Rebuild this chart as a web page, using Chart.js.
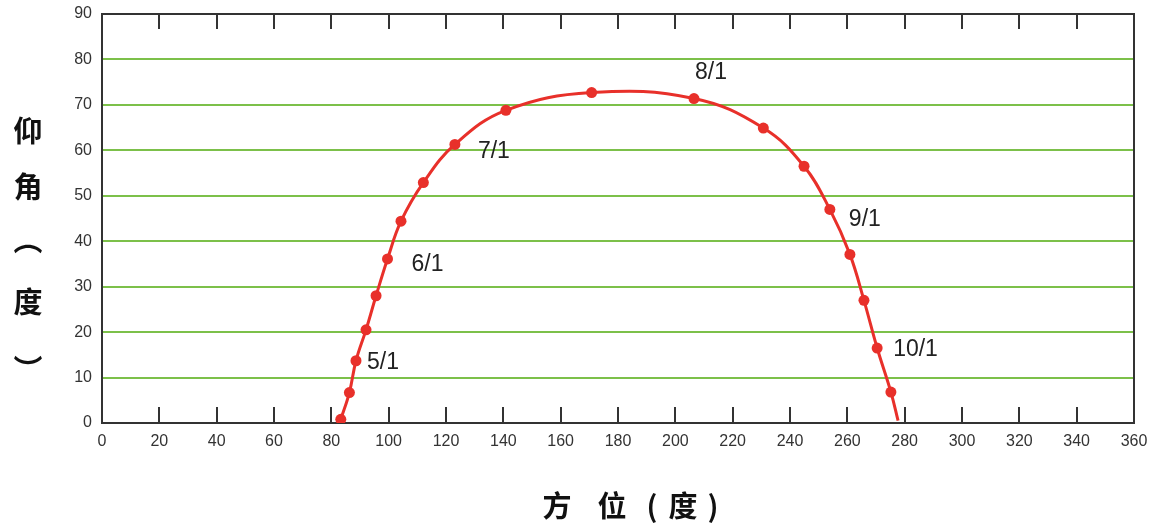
<!DOCTYPE html>
<html>
<head>
<meta charset="utf-8">
<script src="https://cdn.jsdelivr.net/npm/chart.js@4/dist/chart.umd.min.js"></script>
<style>
  html, body { margin: 0; padding: 0; background: #fff; }
  #wrap { width: 1158px; height: 531px; }
</style>
</head>
<body>
<div id="wrap"><canvas id="myChart"></canvas></div>
<script>
// azimuth / elevation of the sun path, one point every ~10 days
var azimuth = [83.3, 86.3, 88.6, 92.1, 95.6, 99.6, 104.3, 112.1, 123.1, 140.9, 170.8, 206.5, 230.7, 244.9, 253.9, 260.9, 265.8, 270.4, 275.2, 277.7];
var elevation = [0.8, 6.7, 13.7, 20.5, 28.0, 36.1, 44.4, 52.9, 61.3, 68.8, 72.7, 71.4, 64.9, 56.5, 47.0, 37.1, 27.0, 16.5, 6.8, 0.5];
var dateLabels = ["", "", "5/1", "", "", "6/1", "", "", "7/1", "", "", "8/1", "", "", "9/1", "", "", "10/1", "", ""];
var xTitle = ["方", "位", "(", "度", ")"];
var yTitle = ["仰", "角", "︵", "度", "︶"];

var points = [];
for (var i = 0; i < azimuth.length; i++) {
  points.push({ x: azimuth[i], y: elevation[i] });
}
// last point is just where the curve meets the horizon, no marker
var radii = azimuth.map(function (v, i) { return i == azimuth.length - 1 ? 0 : 5.5; });

// label offsets (px) from their point
var labelOffsets = { "5/1": [11, 2], "6/1": [24, 6], "7/1": [23, 7], "8/1": [1, -26], "9/1": [19, 10], "10/1": [16, 2] };

var framePlugin = {
  id: "frame",
  afterDraw: function (chart) {
    var ctx = chart.ctx;
    var a = chart.chartArea;
    var xs = chart.scales.x;
    ctx.save();
    ctx.strokeStyle = "#333";
    ctx.lineWidth = 2;
    // top and right border
    ctx.beginPath();
    ctx.moveTo(a.left, a.top);
    ctx.lineTo(a.right, a.top);
    ctx.lineTo(a.right, a.bottom);
    ctx.stroke();
    // inner tick marks
    xs.ticks.forEach(function (t) {
      var px = Math.round(xs.getPixelForValue(t.value));
      if (t.value == 0) return;
      ctx.beginPath();
      ctx.moveTo(px, a.bottom);
      ctx.lineTo(px, a.bottom - 16);
      ctx.moveTo(px, a.top);
      ctx.lineTo(px, a.top + 15);
      ctx.stroke();
    });

    // date labels
    var meta = chart.getDatasetMeta(0);
    ctx.fillStyle = "#222";
    ctx.font = "23px 'Liberation Sans', sans-serif";
    ctx.textAlign = "left";
    ctx.textBaseline = "middle";
    dateLabels.forEach(function (lbl, i) {
      if (!lbl) return;
      var el = meta.data[i];
      var off = labelOffsets[lbl] || [12, 0];
      ctx.fillText(lbl, el.x + off[0], el.y + off[1]);
    });

    // axis titles
    ctx.fillStyle = "#111";
    ctx.font = "bold 29px 'Noto Sans CJK SC', sans-serif";
    ctx.textAlign = "center";
    var xPos = [557, 612, 652, 683, 713];
    xTitle.forEach(function (c, i) {
      ctx.fillText(c, xPos[i], 506);
    });
    var yPos = [131, 187, 240, 302, 370];
    yTitle.forEach(function (c, i) {
      ctx.fillText(c, 28, yPos[i]);
    });
    ctx.restore();
  }
};

var myChart = document.getElementById("myChart").getContext("2d");
var chart = new Chart(myChart, {
  type: "scatter",
  data: {
    datasets: [
      {
        label: "sun",
        data: points,
        showLine: true,
        tension: 0.4,
        borderColor: "#e8302a",
        backgroundColor: "#e8302a",
        borderWidth: 3,
        pointRadius: radii,
        pointHoverRadius: radii,
        pointBorderWidth: 0
      }
    ]
  },
  options: {
    responsive: true,
    maintainAspectRatio: false,
    animation: false,
    layout: { padding: { top: 14, right: 24, left: 0, bottom: 0 } },
    plugins: {
      legend: { display: false },
      tooltip: { enabled: false }
    },
    scales: {
      x: {
        type: "linear",
        min: 0,
        max: 360,
        afterFit: function (s) { s.height = 108; s.paddingLeft = 0; s.paddingRight = 0; },
        ticks: {
          stepSize: 20,
          padding: 9,
          color: "#333",
          font: { family: "'Liberation Sans', sans-serif", size: 16 },
          maxRotation: 0
        },
        grid: { display: false, drawTicks: false },
        border: { display: true, color: "#333", width: 2 }
      },
      y: {
        min: 0,
        max: 90,
        afterFit: function (s) { s.width = 102; s.paddingTop = 0; s.paddingBottom = 0; },
        ticks: {
          stepSize: 10,
          padding: 10,
          color: "#333",
          font: { family: "'Liberation Sans', sans-serif", size: 16 }
        },
        grid: {
          drawTicks: false,
          lineWidth: 2,
          color: function (c) {
            if (c.tick && (c.tick.value == 0 || c.tick.value == 90)) return "rgba(0,0,0,0)";
            return "#7cc04a";
          }
        },
        border: { display: true, color: "#333", width: 2 }
      }
    }
  },
  plugins: [framePlugin]
});
</script>
</body>
</html>
